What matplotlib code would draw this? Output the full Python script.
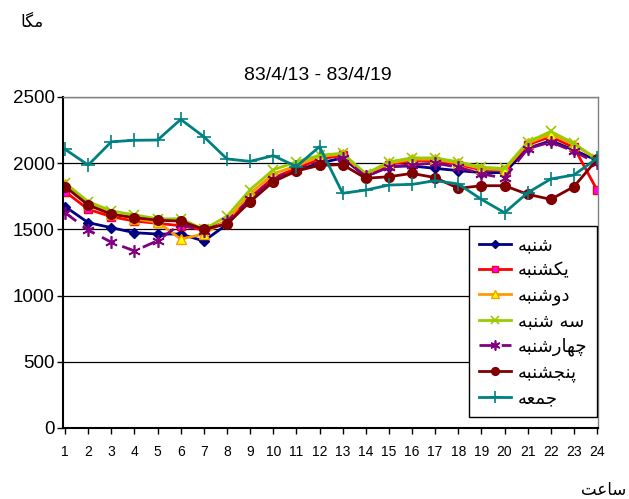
import matplotlib
matplotlib.use("Agg")
import matplotlib.pyplot as plt
from matplotlib import font_manager as fm

hours = list(range(1, 25))
hour_labels = [str(h) for h in hours]

shanbe = [1672, 1551, 1513, 1475, 1465, 1465, 1412, 1538, 1725, 1875, 1945, 2000, 2040,
          1900, 1975, 1979, 1961, 1944, 1929, 1929, 2112, 2170, 2100, 2020]
yekshanbe = [1785, 1652, 1596, 1563, 1546, 1528, 1495, 1560, 1740, 1890, 1960, 2030, 2060,
             1905, 1990, 2020, 2020, 1990, 1950, 1950, 2140, 2200, 2120, 1797]
doshanbe = [1840, 1690, 1620, 1580, 1555, 1427, 1465, 1570, 1770, 1920, 1980, 2050, 2070,
            1910, 2000, 2030, 2030, 2000, 1960, 1950, 2150, 2220, 2140, 2030]
seshanbe = [1850, 1710, 1640, 1610, 1580, 1580, 1500, 1600, 1800, 1950, 2010, 2060, 2075,
            1920, 2010, 2040, 2040, 2010, 1970, 1960, 2160, 2240, 2150, 2030]
chaharshanbe = [1626, 1495, 1403, 1337, 1415, 1540, 1490, 1560, 1730, 1880, 1950, 2010, 2040,
                1900, 1970, 1990, 2000, 1970, 1920, 1887, 2110, 2160, 2090, 2000]
panjshanbe = [1823, 1684, 1614, 1589, 1569, 1563, 1500, 1541, 1709, 1860, 1941, 1984, 1989,
              1886, 1898, 1923, 1891, 1810, 1830, 1830, 1765, 1727, 1823, 2029]
jomeh = [2105, 1986, 2162, 2173, 2175, 2331, 2200, 2032, 2014, 2057, 1975, 2125, 1773,
         1797, 1835, 1840, 1868, 1843, 1727, 1626, 1777, 1881, 1911, 2037]

# Persian labels, pre-shaped (presentation forms, visual order)
lbl_shanbe = "\uFEEA\uFE92\uFEE8\uFEB7"
lbl_yek = "\uFEEA\uFE92\uFEE8\uFEB8\uFB91\uFBFE"
lbl_do = "\uFEEA\uFE92\uFEE8\uFEB7\uFEED\uFEA9"
lbl_se = "\uFEEA\uFE92\uFEE8\uFEB7 \uFEEA\uFEB3"
lbl_chahar = "\uFEEA\uFE92\uFEE8\uFEB7\uFEAD\uFE8E\uFEEC\uFB7C"
lbl_panj = "\uFEEA\uFE92\uFEE8\uFEB8\uFEA0\uFEE8\uFB58"
lbl_jomeh = "\uFEEA\uFECC\uFEE4\uFE9F"
unit_label = "\uFE8E\uFB95\uFEE3"
hour_label = "\uFE96\uFECB\uFE8E\uFEB3"
title = "83/4/13 - 83/4/19"

avail = {f.name for f in fm.fontManager.ttflist}
narrow = "Liberation Sans Narrow" if "Liberation Sans Narrow" in avail else "Liberation Sans"
plt.rcParams['font.family'] = [narrow, 'DejaVu Sans']

fig = plt.figure(figsize=(6.29, 4.99), dpi=100)
ax = fig.add_axes([63/629, 1-428/499, (598-63)/629, (428-97)/499])

asterisk = (6, 2, 0)
series = [
    (shanbe, lbl_shanbe, dict(color='#000080', marker='D', markersize=5.5, mfc='#000080', mec='#000080', ls='-')),
    (yekshanbe, lbl_yek, dict(color='#FF0000', marker='s', markersize=6, mfc='#FF00FF', mec='#FF0000', ls='-')),
    (doshanbe, lbl_do, dict(color='#FF9900', marker='^', markersize=7, mfc='#FFFF00', mec='#FF9900', ls='-')),
    (seshanbe, lbl_se, dict(color='#99CC00', marker='x', markersize=7, mew=1.2, ls='-')),
    (chaharshanbe, lbl_chahar, dict(color='#800080', marker=asterisk, markersize=9, mew=1.2, ls=(0, (5, 3)))),
    (panjshanbe, lbl_panj, dict(color='#800000', marker='o', markersize=7, mfc='#800000', mec='#800000', ls='-')),
    (jomeh, lbl_jomeh, dict(color='#008080', marker='+', markersize=10, mew=1.2, ls='-')),
]
for vals, lbl, st in series:
    ax.plot(hours, vals, label=lbl, lw=2, **st)

ax.set_xlim(0.91, 24.04)
ax.set_ylim(0, 2500)
ax.set_yticks([0, 500, 1000, 1500, 2000, 2500])
ax.set_xticks(hours)
ax.set_xticklabels(hour_labels)
ax.tick_params(axis='x', labelsize=10, length=4, width=1, direction='out', pad=8)
ax.tick_params(axis='y', labelsize=13.5, length=4, width=1, direction='out', pad=2)
ax.yaxis.grid(True, color='#000000', lw=0.9)
ax.set_axisbelow(True)
for s in ['top', 'right']:
    ax.spines[s].set_color('#808080')
    ax.spines[s].set_linewidth(1)
ax.spines['left'].set_linewidth(1.5)
ax.spines['bottom'].set_linewidth(1.5)

fig.text((240+395)/2/629, 1-75/499, title, ha='center', va='center', fontsize=14)
fig.text(32/629, 1-22/499, unit_label, ha='center', va='center', fontsize=12, family=['DejaVu Sans'])
fig.text(604/629, 1-490/499, hour_label, ha='center', va='center', fontsize=12, family=['DejaVu Sans'])

leg = ax.legend(loc='upper left', bbox_to_anchor=(469/629, 1-226/499), bbox_transform=fig.transFigure,
                frameon=True, fancybox=False, edgecolor='#000000', framealpha=1,
                prop={'family': 'DejaVu Sans', 'size': 13}, handlelength=1.75, handletextpad=0.4,
                labelspacing=0.40, borderpad=0.55, borderaxespad=0, markerscale=0.8)
leg.get_frame().set_linewidth(1)

fig.savefig('out.png', dpi=100)
